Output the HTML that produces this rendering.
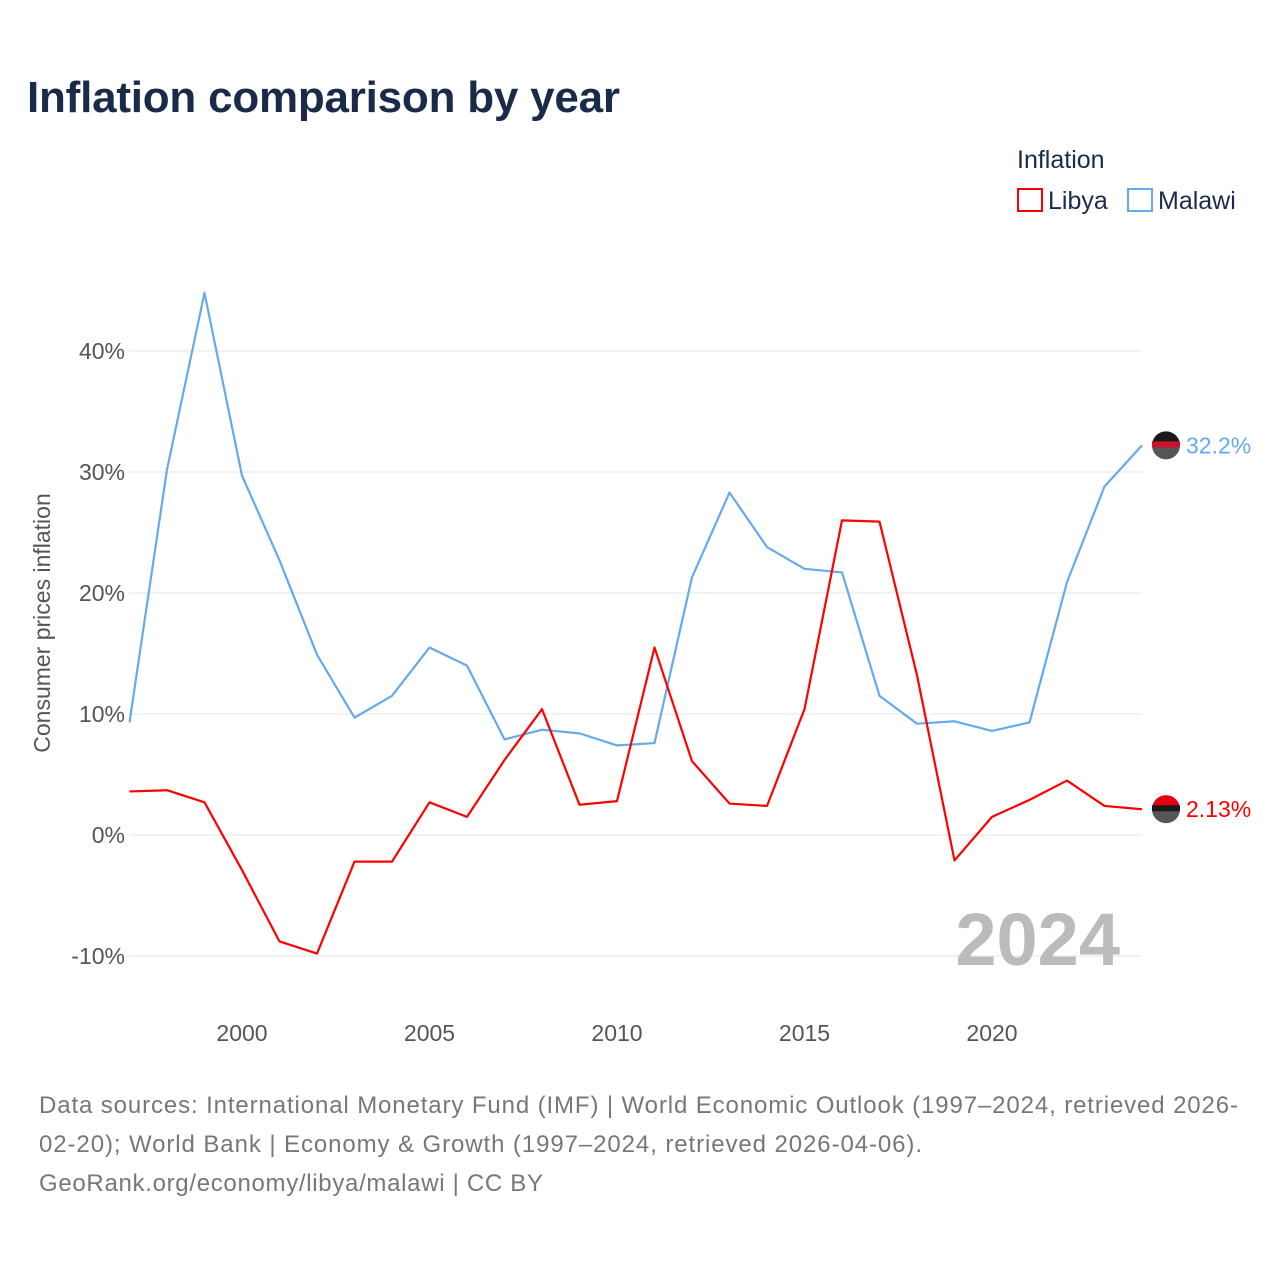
<!DOCTYPE html>
<html><head><meta charset="utf-8">
<style>
body{margin:0;background:#fff;font-family:"Liberation Sans",sans-serif;}
svg text{font-family:"Liberation Sans",sans-serif;}
</style></head>
<body>
<svg width="1280" height="1280" viewBox="0 0 1280 1280">
<text x="27" y="112" font-size="44" font-weight="bold" fill="#1a2b4a" textLength="593">Inflation comparison by year</text>
<g>
<text x="1017" y="168" font-size="25" fill="#1a2b4a">Inflation</text>
<g><rect x="1018" y="189" width="24" height="22" fill="none" stroke="#ff0000" stroke-width="2"/><text x="1048" y="209" font-size="25" fill="#1a2b4a">Libya</text></g>
<g><rect x="1128" y="189" width="24" height="22" fill="none" stroke="#66aaee" stroke-width="2"/><text x="1158" y="209" font-size="25" fill="#1a2b4a">Malawi</text></g>
</g>
<g id="grid"></g>
<g id="yticks"></g>
<g id="xticks"></g>
<text transform="translate(50,623) rotate(-90)" text-anchor="middle" font-size="23" fill="#555">Consumer prices inflation</text>
<text x="1120" y="965" text-anchor="end" font-size="74" font-weight="bold" fill="#bbbbbb">2024</text>
<g id="series"></g>
<g font-size="24" fill="#777">
<text x="39" y="1113" textLength="1199">Data sources: International Monetary Fund (IMF) | World Economic Outlook (1997–2024, retrieved 2026-</text>
<text x="39" y="1152" textLength="883">02-20); World Bank | Economy &amp; Growth (1997–2024, retrieved 2026-04-06).</text>
<text x="39" y="1191" textLength="504">GeoRank.org/economy/libya/malawi | CC BY</text>
</g>
</svg>
<script>
const years=[1997,1998,1999,2000,2001,2002,2003,2004,2005,2006,2007,2008,2009,2010,2011,2012,2013,2014,2015,2016,2017,2018,2019,2020,2021,2022,2023,2024];
const malawi=[9.3,30.2,44.8,29.7,22.7,14.9,9.7,11.5,15.5,14.0,7.9,8.7,8.4,7.4,7.6,21.3,28.3,23.8,22.0,21.7,11.5,9.2,9.4,8.6,9.3,20.9,28.8,32.2];
const libya=[3.6,3.7,2.7,-2.9,-8.8,-9.8,-2.2,-2.2,2.7,1.5,6.2,10.4,2.5,2.8,15.5,6.1,2.6,2.4,10.4,26.0,25.9,13.2,-2.1,1.5,2.9,4.5,2.4,2.13];
const yTicks=[-10,0,10,20,30,40];
const xTicks=[2000,2005,2010,2015,2020];
const NS="http://www.w3.org/2000/svg";
const x=v=>129.5+(v-1997)*(1142-129.5)/27;
const y=v=>835-v*12.1;
function mk(t,a,p){const e=document.createElementNS(NS,t);for(const k in a)e.setAttribute(k,a[k]);p.appendChild(e);return e;}
const grid=document.getElementById('grid'),yt=document.getElementById('yticks'),xt=document.getElementById('xticks'),ser=document.getElementById('series');
yTicks.forEach(v=>{
 const l=mk('line',{x1:129,x2:1142,y1:y(v),y2:y(v),stroke:'#e6e6e6','stroke-width':1},grid);
 
 
 const t=mk('text',{x:125,y:y(v)+8,'text-anchor':'end','font-size':23,fill:'#555'},yt);
 t.textContent=v+'%';
 
 
});
xTicks.forEach(v=>{
 const t=mk('text',{x:x(v),y:1041,'text-anchor':'middle','font-size':23,fill:'#555'},xt);
 t.textContent=v;
 
 
});
function line(data,color,name,label){
 const p=mk('polyline',{points:data.map((v,i)=>x(years[i])+','+y(v)).join(' '),fill:'none',stroke:color,'stroke-width':2.2,'stroke-linejoin':'round'},ser);
 
 
 const last=data[data.length-1],ly=y(last);
 const c=mk('circle',{cx:1166,cy:ly,r:14,fill:'#555'},ser);
 
 
 mk('path',{d:`M1152,${ly} A14,14 0 0 1 1180,${ly} Z`,fill:name.includes('malawi')?'#1a1a1a':'#e70013'},ser);
 mk('rect',{x:1152,y:ly-4,width:28,height:6,fill:name.includes('malawi')?'#ce1126':'#1a1a1a'},ser);
 const t=mk('text',{x:1186,y:ly+8,'font-size':23,fill:color},ser);
 t.textContent=label;
 
 
}
line(malawi,'#66aaee','malawi-line','32.2%');
line(libya,'#ff0000','libya-line','2.13%');
</script>
</body></html>
